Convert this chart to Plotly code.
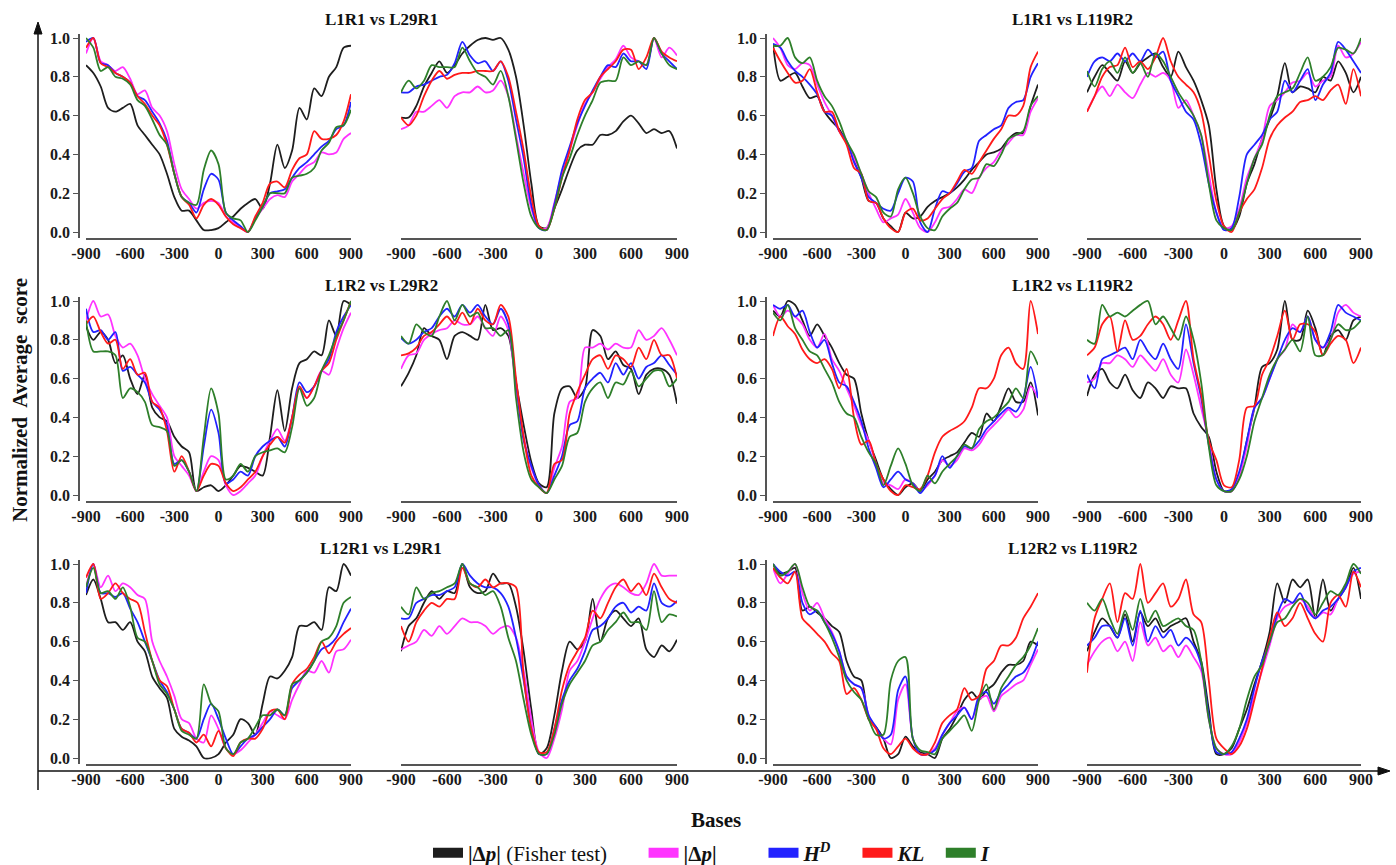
import plotly.graph_objects as go

# ---------------- data ----------------
bases = list(range(-900, 901, 50))
x_tick_vals = [-900, -600, -300, 0, 300, 600, 900]
x_tick_text = ["-900", "-600", "-300", "0", "300", "600", "900"]
y_tick_vals = [0.0, 0.2, 0.4, 0.6, 0.8, 1.0]
y_tick_text = ["0.0", "0.2", "0.4", "0.6", "0.8", "1.0"]

pair_titles = ["L1R1 vs L29R1", "L1R1 vs L119R2",
               "L1R2 vs L29R2", "L1R2 vs L119R2",
               "L12R1 vs L29R1", "L12R2 vs L119R2"]

series_labels = ["<b>|Δ<i>p</i>|</b> (Fisher test)", "<b>|Δ<i>p</i>|</b>",
                 "<b><i>H</i><sup><i>D</i></sup></b>", "<b><i>KL</i></b>", "<b><i>I</i></b>"]
series_colors = ["#1e1e1e", "#ff33ff", "#2222ff", "#ff1a1a", "#2e7f2a"]

# Panel 1: L1R1 vs L29R1 (left)
p1_fisher = [0.86,0.82,0.75,0.64,0.62,0.64,0.66,0.55,0.50,0.45,0.40,0.30,0.18,0.11,0.11,0.06,0.01,0.01,0.02,0.05,0.08,0.12,0.15,0.17,0.12,0.25,0.45,0.33,0.42,0.64,0.58,0.74,0.70,0.80,0.85,0.95,0.96]
p1_dp = [0.92,1.0,0.88,0.86,0.83,0.85,0.79,0.71,0.73,0.64,0.60,0.52,0.35,0.22,0.17,0.12,0.15,0.16,0.15,0.08,0.05,0.02,0.0,0.07,0.12,0.17,0.19,0.18,0.26,0.30,0.34,0.36,0.41,0.40,0.41,0.48,0.51]
p1_hd = [0.98,1.0,0.87,0.86,0.82,0.80,0.77,0.70,0.68,0.62,0.56,0.47,0.30,0.18,0.15,0.10,0.22,0.30,0.27,0.10,0.06,0.03,0.0,0.07,0.13,0.20,0.21,0.22,0.28,0.33,0.36,0.40,0.44,0.47,0.53,0.55,0.67]
p1_kl = [0.95,1.0,0.87,0.85,0.82,0.80,0.77,0.70,0.66,0.60,0.55,0.45,0.30,0.18,0.14,0.07,0.14,0.17,0.14,0.08,0.04,0.02,0.0,0.08,0.15,0.25,0.26,0.23,0.32,0.38,0.40,0.52,0.48,0.48,0.50,0.57,0.71]
p1_i = [1.0,0.95,0.83,0.85,0.80,0.79,0.76,0.68,0.65,0.58,0.50,0.45,0.30,0.18,0.15,0.14,0.32,0.42,0.35,0.10,0.07,0.06,0.0,0.06,0.13,0.20,0.20,0.20,0.28,0.29,0.30,0.33,0.42,0.46,0.54,0.55,0.63]

# Panel 2: L1R1 vs L29R1 (right)
p2_fisher = [0.59,0.59,0.65,0.75,0.82,0.88,0.82,0.86,0.92,0.96,0.99,1.0,0.99,1.0,0.94,0.80,0.55,0.25,0.03,0.02,0.12,0.22,0.33,0.42,0.45,0.45,0.50,0.50,0.52,0.57,0.60,0.56,0.51,0.53,0.51,0.52,0.43]
p2_dp = [0.53,0.55,0.62,0.62,0.65,0.68,0.64,0.70,0.72,0.72,0.75,0.72,0.73,0.78,0.70,0.50,0.30,0.12,0.02,0.02,0.15,0.30,0.42,0.55,0.66,0.72,0.79,0.85,0.89,0.96,0.90,0.88,0.86,1.0,0.90,0.95,0.91]
p2_hd = [0.72,0.72,0.75,0.76,0.78,0.80,0.81,0.87,0.98,0.91,0.87,0.88,0.83,0.88,0.78,0.58,0.38,0.14,0.02,0.01,0.14,0.32,0.44,0.56,0.65,0.73,0.80,0.86,0.85,0.92,0.88,0.88,0.84,1.0,0.92,0.88,0.84]
p2_kl = [0.59,0.55,0.60,0.70,0.78,0.83,0.79,0.81,0.82,0.82,0.83,0.83,0.83,0.88,0.80,0.62,0.42,0.18,0.03,0.01,0.12,0.28,0.42,0.58,0.68,0.72,0.80,0.84,0.88,0.94,0.94,0.84,0.90,1.0,0.93,0.90,0.88]
p2_i = [0.72,0.78,0.74,0.78,0.86,0.85,0.85,0.85,0.95,0.88,0.82,0.80,0.76,0.83,0.70,0.48,0.25,0.08,0.02,0.01,0.12,0.28,0.38,0.50,0.60,0.68,0.77,0.78,0.78,0.90,0.86,0.88,0.86,1.0,0.92,0.86,0.84]

# Panel 3: L1R1 vs L119R2 (left)
p3_fisher = [0.97,0.78,0.80,0.82,0.75,0.69,0.70,0.62,0.57,0.53,0.46,0.38,0.28,0.16,0.15,0.07,0.03,0.0,0.10,0.07,0.08,0.13,0.16,0.18,0.20,0.23,0.27,0.32,0.36,0.40,0.41,0.43,0.48,0.51,0.51,0.65,0.76]
p3_dp = [1.0,0.95,0.86,0.84,0.87,0.86,0.76,0.67,0.60,0.52,0.46,0.38,0.30,0.20,0.12,0.05,0.07,0.09,0.17,0.10,0.02,0.0,0.05,0.12,0.13,0.17,0.22,0.20,0.28,0.33,0.36,0.42,0.46,0.50,0.50,0.62,0.69]
p3_hd = [0.97,0.95,0.88,0.83,0.80,0.76,0.71,0.62,0.60,0.52,0.47,0.36,0.28,0.18,0.15,0.12,0.11,0.20,0.28,0.26,0.05,0.0,0.12,0.21,0.20,0.25,0.31,0.33,0.47,0.50,0.53,0.55,0.64,0.67,0.68,0.80,0.87]
p3_kl = [0.95,0.88,0.82,0.77,0.78,0.84,0.72,0.62,0.62,0.52,0.45,0.33,0.30,0.16,0.15,0.07,0.02,0.0,0.10,0.12,0.06,0.07,0.12,0.17,0.20,0.26,0.32,0.30,0.36,0.42,0.48,0.53,0.60,0.60,0.65,0.85,0.93]
p3_i = [0.96,0.96,1.0,0.90,0.87,0.90,0.78,0.70,0.65,0.57,0.47,0.40,0.30,0.21,0.18,0.10,0.08,0.22,0.28,0.20,0.08,0.02,0.01,0.08,0.12,0.15,0.22,0.27,0.28,0.35,0.34,0.40,0.48,0.50,0.52,0.65,0.70]

# Panel 4: L1R1 vs L119R2 (right)
p4_fisher = [0.72,0.80,0.86,0.82,0.78,0.88,0.82,0.87,0.90,0.92,0.85,0.80,0.93,0.85,0.78,0.68,0.55,0.22,0.03,0.01,0.08,0.25,0.35,0.48,0.58,0.70,0.87,0.72,0.75,0.74,0.72,0.80,0.78,0.88,0.82,0.72,0.80]
p4_dp = [0.62,0.70,0.75,0.70,0.76,0.72,0.69,0.76,0.82,0.80,0.82,0.78,0.64,0.68,0.60,0.50,0.30,0.10,0.02,0.03,0.12,0.28,0.38,0.48,0.65,0.68,0.72,0.77,0.78,0.82,0.75,0.78,0.80,0.96,0.90,0.92,0.98]
p4_hd = [0.80,0.88,0.90,0.88,0.92,0.88,0.92,0.88,0.94,0.90,0.93,0.78,0.70,0.62,0.58,0.45,0.25,0.10,0.01,0.02,0.18,0.40,0.45,0.50,0.58,0.62,0.78,0.72,0.78,0.84,0.68,0.76,0.82,0.98,0.94,0.88,0.82]
p4_kl = [0.62,0.70,0.80,0.85,0.86,0.95,0.85,0.88,0.84,0.90,1.0,0.88,0.80,0.76,0.72,0.62,0.40,0.16,0.03,0.0,0.10,0.17,0.22,0.33,0.48,0.55,0.59,0.62,0.67,0.68,0.70,0.68,0.73,0.76,0.66,0.84,0.70]
p4_i = [0.83,0.75,0.84,0.88,0.82,0.90,0.82,0.87,0.80,0.92,0.88,0.80,0.72,0.66,0.60,0.50,0.25,0.06,0.02,0.01,0.10,0.25,0.38,0.45,0.60,0.70,0.72,0.74,0.82,0.90,0.78,0.80,0.85,0.95,0.94,0.92,1.0]

# Panel 5: L1R2 vs L29R2 (left)
p5_fisher = [0.87,0.80,0.84,0.80,0.68,0.72,0.60,0.52,0.62,0.45,0.40,0.38,0.30,0.25,0.22,0.02,0.04,0.05,0.02,0.05,0.10,0.15,0.14,0.12,0.10,0.30,0.54,0.33,0.55,0.68,0.70,0.74,0.72,0.90,0.82,1.0,0.98]
p5_dp = [0.90,1.0,0.92,0.93,0.82,0.76,0.78,0.72,0.60,0.52,0.46,0.40,0.20,0.15,0.10,0.02,0.12,0.20,0.18,0.05,0.0,0.02,0.06,0.10,0.20,0.28,0.34,0.28,0.40,0.55,0.50,0.56,0.64,0.62,0.75,0.86,0.94]
p5_hd = [0.96,0.84,0.85,0.80,0.84,0.64,0.66,0.62,0.58,0.48,0.44,0.36,0.16,0.18,0.12,0.02,0.25,0.44,0.32,0.06,0.08,0.12,0.10,0.20,0.25,0.28,0.30,0.25,0.40,0.58,0.53,0.56,0.64,0.70,0.84,0.92,0.98]
p5_kl = [0.88,0.92,0.84,0.78,0.80,0.65,0.70,0.62,0.63,0.48,0.45,0.33,0.12,0.20,0.12,0.02,0.10,0.16,0.15,0.06,0.02,0.04,0.08,0.12,0.20,0.26,0.30,0.27,0.40,0.56,0.50,0.56,0.64,0.68,0.80,0.90,1.0]
p5_i = [0.90,0.74,0.74,0.74,0.72,0.50,0.55,0.53,0.48,0.36,0.35,0.33,0.15,0.18,0.12,0.02,0.30,0.55,0.42,0.08,0.10,0.16,0.12,0.20,0.22,0.23,0.24,0.22,0.35,0.55,0.46,0.50,0.64,0.72,0.82,0.90,1.0]

# Panel 6: L1R2 vs L29R2 (right)
p6_fisher = [0.56,0.63,0.72,0.86,0.82,0.80,0.70,0.82,0.84,0.82,0.80,0.98,0.85,0.86,0.82,0.58,0.36,0.17,0.06,0.04,0.42,0.55,0.56,0.50,0.55,0.85,0.82,0.70,0.74,0.67,0.65,0.52,0.62,0.65,0.65,0.62,0.47]
p6_dp = [0.65,0.72,0.73,0.80,0.83,0.85,0.86,0.90,0.88,0.88,0.92,0.86,0.82,0.92,0.85,0.55,0.30,0.14,0.05,0.01,0.14,0.25,0.48,0.50,0.76,0.76,0.78,0.75,0.78,0.76,0.76,0.85,0.80,0.82,0.86,0.80,0.72]
p6_hd = [0.81,0.78,0.80,0.84,0.86,0.92,0.96,0.92,0.98,0.94,0.98,0.92,0.88,0.96,0.88,0.58,0.28,0.15,0.05,0.01,0.10,0.20,0.36,0.38,0.55,0.60,0.63,0.58,0.68,0.62,0.68,0.60,0.66,0.68,0.72,0.67,0.62]
p6_kl = [0.72,0.73,0.76,0.82,0.84,0.88,0.92,0.88,0.94,0.88,0.96,0.90,0.88,0.98,0.92,0.60,0.30,0.10,0.04,0.01,0.16,0.18,0.42,0.53,0.62,0.70,0.72,0.65,0.72,0.70,0.66,0.76,0.70,0.80,0.72,0.72,0.60]
p6_i = [0.82,0.78,0.88,0.84,0.82,0.92,1.0,0.90,0.98,0.92,0.94,0.86,0.86,0.82,0.85,0.50,0.22,0.08,0.04,0.01,0.08,0.15,0.30,0.32,0.48,0.55,0.58,0.50,0.58,0.57,0.64,0.56,0.60,0.64,0.64,0.56,0.60]

# Panel 7: L1R2 vs L119R2 (left)
p7_fisher = [0.95,0.92,1.0,0.98,0.90,0.82,0.88,0.82,0.76,0.68,0.62,0.60,0.42,0.28,0.18,0.08,0.03,0.0,0.04,0.06,0.02,0.08,0.12,0.18,0.20,0.22,0.27,0.32,0.30,0.42,0.38,0.46,0.55,0.48,0.48,0.58,0.41]
p7_dp = [0.98,0.92,0.95,0.92,0.88,0.80,0.76,0.83,0.70,0.64,0.55,0.46,0.36,0.28,0.16,0.06,0.05,0.03,0.08,0.06,0.02,0.05,0.10,0.18,0.15,0.18,0.24,0.23,0.26,0.32,0.36,0.40,0.44,0.40,0.44,0.56,0.50]
p7_hd = [0.98,0.96,0.98,0.92,0.95,0.84,0.76,0.80,0.68,0.58,0.56,0.48,0.38,0.24,0.14,0.04,0.08,0.12,0.08,0.06,0.01,0.06,0.10,0.20,0.14,0.20,0.25,0.24,0.28,0.34,0.38,0.42,0.45,0.43,0.50,0.66,0.50]
p7_kl = [0.82,0.92,0.87,0.83,0.75,0.70,0.68,0.70,0.65,0.55,0.65,0.40,0.26,0.28,0.16,0.08,0.02,0.0,0.05,0.04,0.03,0.10,0.22,0.30,0.33,0.35,0.38,0.45,0.55,0.55,0.60,0.72,0.76,0.68,0.65,1.0,0.83]
p7_i = [0.94,0.90,0.98,0.86,0.80,0.74,0.72,0.65,0.58,0.48,0.42,0.40,0.30,0.22,0.16,0.05,0.15,0.24,0.16,0.05,0.02,0.10,0.06,0.12,0.16,0.20,0.26,0.24,0.34,0.38,0.40,0.44,0.48,0.55,0.50,0.74,0.67]

# Panel 8: L1R2 vs L119R2 (right)
p8_fisher = [0.51,0.62,0.65,0.58,0.55,0.62,0.54,0.50,0.58,0.55,0.50,0.56,0.55,0.55,0.42,0.35,0.30,0.12,0.02,0.02,0.10,0.28,0.45,0.66,0.68,0.75,1.0,0.80,0.80,0.95,0.86,0.72,0.82,0.85,0.80,0.90,0.92]
p8_dp = [0.58,0.60,0.68,0.68,0.72,0.70,0.66,0.72,0.68,0.64,0.70,0.62,0.58,0.75,0.62,0.45,0.28,0.08,0.02,0.02,0.10,0.25,0.45,0.50,0.60,0.70,0.75,0.88,0.84,0.92,0.80,0.76,0.80,0.94,0.98,0.94,0.92]
p8_hd = [0.62,0.55,0.70,0.72,0.74,0.76,0.70,0.80,0.74,0.70,0.78,0.70,0.65,0.88,0.68,0.50,0.26,0.08,0.02,0.03,0.12,0.28,0.45,0.50,0.60,0.70,0.80,0.86,0.84,0.92,0.80,0.76,0.84,0.98,0.94,0.92,0.90]
p8_kl = [0.72,0.76,0.88,0.92,0.74,0.90,0.80,0.82,0.88,0.92,0.88,0.80,0.90,1.0,0.70,0.52,0.28,0.18,0.05,0.04,0.18,0.45,0.46,0.62,0.70,0.82,0.95,0.80,0.88,0.88,0.84,0.72,0.78,0.82,0.80,0.68,0.76]
p8_i = [0.80,0.78,0.98,0.92,0.94,0.92,0.95,0.98,1.0,0.88,0.92,0.86,0.80,0.92,0.80,0.58,0.25,0.05,0.02,0.02,0.08,0.20,0.38,0.50,0.62,0.70,0.75,0.80,0.74,0.92,0.72,0.72,0.80,0.88,0.85,0.86,0.90]

# Panel 9: L12R1 vs L29R1 (left)
p9_fisher = [0.84,0.92,0.82,0.70,0.70,0.66,0.70,0.60,0.55,0.42,0.36,0.31,0.15,0.11,0.09,0.06,0.0,0.0,0.02,0.08,0.12,0.20,0.18,0.12,0.28,0.42,0.41,0.45,0.52,0.68,0.68,0.70,0.66,0.88,0.86,1.0,0.94]
p9_dp = [0.88,1.0,0.88,0.94,0.86,0.90,0.88,0.84,0.82,0.60,0.50,0.42,0.32,0.20,0.18,0.10,0.08,0.22,0.15,0.05,0.02,0.04,0.08,0.12,0.18,0.24,0.22,0.20,0.30,0.38,0.45,0.44,0.50,0.44,0.55,0.56,0.61]
p9_hd = [0.85,1.0,0.85,0.85,0.83,0.85,0.77,0.70,0.60,0.50,0.40,0.34,0.25,0.15,0.13,0.10,0.20,0.28,0.20,0.10,0.02,0.06,0.10,0.12,0.16,0.20,0.25,0.22,0.36,0.40,0.44,0.50,0.56,0.58,0.62,0.70,0.77]
p9_kl = [0.93,1.0,0.82,0.85,0.90,0.85,0.82,0.80,0.65,0.50,0.40,0.37,0.25,0.15,0.13,0.08,0.12,0.06,0.14,0.05,0.01,0.08,0.10,0.10,0.15,0.24,0.25,0.20,0.38,0.43,0.46,0.52,0.60,0.54,0.60,0.64,0.67]
p9_i = [0.88,0.98,0.85,0.86,0.82,0.88,0.78,0.62,0.60,0.50,0.38,0.33,0.25,0.14,0.12,0.10,0.38,0.28,0.24,0.05,0.02,0.08,0.10,0.16,0.22,0.22,0.25,0.22,0.38,0.40,0.44,0.50,0.60,0.62,0.68,0.80,0.83]

# Panel 10: L12R1 vs L29R1 (right)
p10_fisher = [0.55,0.68,0.72,0.80,0.86,0.82,0.86,0.85,1.0,0.88,0.85,0.86,0.95,0.90,0.90,0.78,0.55,0.25,0.02,0.05,0.22,0.45,0.60,0.56,0.60,0.82,0.60,0.72,0.76,0.72,0.68,0.72,0.56,0.52,0.58,0.55,0.61]
p10_dp = [0.56,0.58,0.60,0.66,0.63,0.68,0.64,0.68,0.72,0.70,0.70,0.68,0.64,0.67,0.68,0.62,0.45,0.20,0.03,0.0,0.10,0.25,0.45,0.50,0.60,0.72,0.82,0.88,0.90,0.88,0.85,0.84,0.90,1.0,0.94,0.94,0.94]
p10_hd = [0.72,0.72,0.80,0.82,0.84,0.84,0.86,0.88,1.0,0.94,0.90,0.88,0.88,0.85,0.78,0.62,0.40,0.15,0.02,0.02,0.15,0.30,0.40,0.46,0.55,0.66,0.68,0.72,0.78,0.80,0.75,0.78,0.76,0.90,0.80,0.78,0.81]
p10_kl = [0.68,0.60,0.70,0.76,0.80,0.78,0.82,0.82,0.98,0.90,0.88,0.92,0.88,0.90,0.90,0.88,0.42,0.15,0.03,0.03,0.15,0.35,0.48,0.55,0.62,0.76,0.72,0.80,0.88,0.92,0.86,0.90,0.84,0.95,0.88,0.82,0.80]
p10_i = [0.78,0.74,0.88,0.82,0.85,0.86,0.88,0.90,1.0,0.90,0.88,0.84,0.86,0.78,0.62,0.50,0.30,0.12,0.02,0.02,0.12,0.28,0.38,0.44,0.50,0.58,0.60,0.66,0.70,0.75,0.70,0.70,0.66,0.86,0.70,0.74,0.73]

# Panel 11: L12R2 vs L119R2 (left)
p11_fisher = [1.0,0.95,0.96,0.98,0.76,0.78,0.75,0.72,0.68,0.65,0.50,0.42,0.40,0.20,0.16,0.10,0.0,0.02,0.11,0.06,0.03,0.02,0.0,0.10,0.15,0.22,0.30,0.34,0.30,0.35,0.38,0.44,0.48,0.48,0.50,0.60,0.58]
p11_dp = [0.98,0.90,0.95,1.0,0.85,0.76,0.80,0.72,0.65,0.55,0.42,0.38,0.36,0.22,0.15,0.10,0.07,0.30,0.38,0.10,0.02,0.02,0.05,0.12,0.18,0.24,0.26,0.20,0.30,0.32,0.24,0.32,0.35,0.38,0.40,0.48,0.56]
p11_hd = [1.0,0.96,0.94,0.96,0.80,0.74,0.76,0.70,0.64,0.55,0.42,0.38,0.36,0.22,0.16,0.10,0.12,0.35,0.42,0.10,0.02,0.02,0.04,0.12,0.18,0.22,0.26,0.20,0.32,0.34,0.28,0.34,0.38,0.42,0.44,0.50,0.60]
p11_kl = [0.98,0.93,0.90,0.96,0.72,0.68,0.64,0.60,0.54,0.50,0.33,0.36,0.30,0.20,0.15,0.05,0.02,0.06,0.10,0.05,0.02,0.02,0.08,0.18,0.22,0.25,0.36,0.30,0.32,0.46,0.50,0.58,0.58,0.62,0.72,0.78,0.85]
p11_i = [1.0,0.94,0.96,1.0,0.88,0.78,0.76,0.70,0.62,0.52,0.40,0.34,0.30,0.20,0.12,0.12,0.40,0.50,0.52,0.10,0.04,0.03,0.02,0.10,0.14,0.18,0.22,0.14,0.30,0.38,0.25,0.36,0.42,0.48,0.52,0.58,0.67]

# Panel 12: L12R2 vs L119R2 (right)
p12_fisher = [0.55,0.65,0.72,0.68,0.62,0.74,0.60,0.75,0.68,0.72,0.65,0.68,0.70,0.72,0.60,0.50,0.25,0.02,0.02,0.05,0.15,0.25,0.38,0.50,0.65,0.90,0.80,0.92,0.88,0.92,0.72,0.92,0.76,0.82,0.88,0.98,0.82]
p12_dp = [0.48,0.55,0.60,0.62,0.55,0.60,0.50,0.70,0.58,0.62,0.55,0.58,0.52,0.58,0.52,0.45,0.20,0.05,0.02,0.02,0.08,0.18,0.32,0.45,0.58,0.72,0.78,0.80,0.82,0.78,0.72,0.75,0.74,0.82,0.88,0.95,0.96]
p12_hd = [0.58,0.62,0.68,0.68,0.62,0.72,0.58,0.76,0.60,0.68,0.62,0.66,0.58,0.62,0.58,0.48,0.22,0.03,0.02,0.03,0.10,0.20,0.36,0.50,0.60,0.74,0.82,0.80,0.85,0.76,0.72,0.76,0.78,0.82,0.88,0.96,0.98]
p12_kl = [0.44,0.72,0.82,0.90,0.70,0.85,0.82,1.0,0.80,0.85,0.90,0.78,0.82,0.92,0.74,0.70,0.40,0.10,0.05,0.02,0.06,0.15,0.30,0.46,0.62,0.75,0.68,0.72,0.80,0.72,0.64,0.60,0.80,0.84,0.78,0.96,0.88]
p12_i = [0.80,0.76,0.82,0.72,0.64,0.76,0.66,0.82,0.70,0.76,0.68,0.70,0.72,0.68,0.66,0.50,0.20,0.05,0.02,0.06,0.15,0.30,0.42,0.48,0.60,0.70,0.72,0.78,0.82,0.80,0.74,0.80,0.86,0.84,0.90,1.0,0.95]

panels = [
    [p1_fisher, p1_dp, p1_hd, p1_kl, p1_i],
    [p2_fisher, p2_dp, p2_hd, p2_kl, p2_i],
    [p3_fisher, p3_dp, p3_hd, p3_kl, p3_i],
    [p4_fisher, p4_dp, p4_hd, p4_kl, p4_i],
    [p5_fisher, p5_dp, p5_hd, p5_kl, p5_i],
    [p6_fisher, p6_dp, p6_hd, p6_kl, p6_i],
    [p7_fisher, p7_dp, p7_hd, p7_kl, p7_i],
    [p8_fisher, p8_dp, p8_hd, p8_kl, p8_i],
    [p9_fisher, p9_dp, p9_hd, p9_kl, p9_i],
    [p10_fisher, p10_dp, p10_hd, p10_kl, p10_i],
    [p11_fisher, p11_dp, p11_hd, p11_kl, p11_i],
    [p12_fisher, p12_dp, p12_hd, p12_kl, p12_i],
]

# ---------------- layout ----------------
W, H = 1396, 865
SERIF = "Liberation Serif"
col_px = [(86, 351), (401, 677), (773, 1038), (1087, 1361)]
row_one_px = [38, 301, 564]     # pixel row of value 1.0
unit_px = 194                   # pixels per 1.0
y_lo, y_hi = -0.031, 1.02
NB = "\u00a0"
legend_pad = [6, 8, 4, 2, 0]    # trailing spaces to spread legend entries

def px_x(v):
    return v / W

def px_y(v):
    return 1 - v / H

fig = go.Figure()
layout = dict(
    width=W, height=H, autosize=False,
    margin=dict(l=0, r=0, t=0, b=0, pad=0, autoexpand=False),
    paper_bgcolor="white", plot_bgcolor="white",
    showlegend=True,
    font=dict(family=SERIF, color="#111111"),
)

for k in range(12):
    r, c = divmod(k, 4)
    ax_id = "" if k == 0 else str(k + 1)
    x0, x1 = col_px[c]
    top = row_one_px[r] - (y_hi - 1.0) * unit_px
    bot = row_one_px[r] + (1.0 - y_lo) * unit_px
    xdom = [px_x(x0), px_x(x1)]
    ydom = [px_y(bot), px_y(top)]
    layout["xaxis" + ax_id] = dict(
        domain=xdom, range=[-900, 900], anchor="y" + ax_id, automargin=False,
        showgrid=False, zeroline=False, showline=True, linecolor="#555555", linewidth=1.5,
        tickmode="array", tickvals=x_tick_vals, ticktext=x_tick_text, ticks="",
        tickfont=dict(family=SERIF, size=16, color="#1a1a1a", weight="bold"),
    )
    yax = dict(
        domain=ydom, range=[y_lo, y_hi], automargin=False,
        showgrid=False, zeroline=False,
    )
    if c in (0, 2):
        yax.update(
            anchor="free", position=px_x(x0 - 7),
            showline=True, linecolor="#555555", linewidth=1.5,
            ticks="outside", ticklen=5, tickcolor="#555555", tickwidth=1.2,
            tickmode="array", tickvals=y_tick_vals, ticktext=y_tick_text,
            tickfont=dict(family=SERIF, size=16, color="#1a1a1a", weight="bold"),
        )
    else:
        yax.update(visible=False, anchor="x" + ax_id)
    layout["yaxis" + ax_id] = yax

    for s in range(5):
        fig.add_trace(go.Scatter(
            x=bases, y=panels[k][s], mode="lines",
            line=dict(color=series_colors[s], width=1.8, shape="spline", smoothing=0.8),
            xaxis="x" + ax_id, yaxis="y" + ax_id,
            showlegend=False, hoverinfo="skip",
        ))

# legend-only entries
for s in range(5):
    fig.add_trace(go.Scatter(
        x=[None], y=[None], mode="lines", name=series_labels[s] + NB * legend_pad[s],
        line=dict(color=series_colors[s], width=11),
        xaxis="x", yaxis="y",
    ))

layout["legend"] = dict(
    orientation="h", x=px_x(712), xanchor="center", y=px_y(853), yanchor="middle",
    font=dict(family=SERIF, size=21, color="#111111"),
    bgcolor="rgba(0,0,0,0)", itemwidth=30, traceorder="normal",
)

annotations = []
title_pos_x = [381, 1072]
title_pos_y = [20, 285, 548]
for t, title in enumerate(pair_titles):
    r, c = divmod(t, 2)
    annotations.append(dict(
        x=px_x(title_pos_x[c]), y=px_y(title_pos_y[r]), xref="paper", yref="paper",
        text=title, showarrow=False, xanchor="center", yanchor="middle",
        font=dict(family=SERIF, size=17, color="#111111", weight="bold"),
    ))

annotations.append(dict(
    x=px_x(20), y=px_y(400), xref="paper", yref="paper",
    text="Normalized\u00a0 Average\u00a0 score", textangle=-90, showarrow=False,
    xanchor="center", yanchor="middle",
    font=dict(family=SERIF, size=21, color="#111111", weight="bold"),
))
annotations.append(dict(
    x=px_x(716), y=px_y(820), xref="paper", yref="paper",
    text="Bases", showarrow=False, xanchor="center", yanchor="middle",
    font=dict(family=SERIF, size=21, color="#111111", weight="bold"),
))
layout["annotations"] = annotations

# big axis arrows (decoration): lines + triangular heads
ax_x, top_y, bot_y = 38, 22, 790
hz_y, hz_x0, hz_x1 = 771, 38, 1390
shapes = [
    dict(type="line", xref="paper", yref="paper",
         x0=px_x(ax_x), x1=px_x(ax_x), y0=px_y(bot_y), y1=px_y(top_y + 8),
         line=dict(color="#111111", width=1.5)),
    dict(type="line", xref="paper", yref="paper",
         x0=px_x(hz_x0), x1=px_x(hz_x1 - 8), y0=px_y(hz_y), y1=px_y(hz_y),
         line=dict(color="#111111", width=1.5)),
    dict(type="path", xref="paper", yref="paper",
         path="M {} {} L {} {} L {} {} Z".format(
             px_x(ax_x), px_y(top_y), px_x(ax_x - 4), px_y(top_y + 12), px_x(ax_x + 4), px_y(top_y + 12)),
         fillcolor="#111111", line=dict(color="#111111", width=1)),
    dict(type="path", xref="paper", yref="paper",
         path="M {} {} L {} {} L {} {} Z".format(
             px_x(hz_x1), px_y(hz_y), px_x(hz_x1 - 12), px_y(hz_y - 4), px_x(hz_x1 - 12), px_y(hz_y + 4)),
         fillcolor="#111111", line=dict(color="#111111", width=1)),
]
layout["shapes"] = shapes

fig.update_layout(**layout)
fig.write_html(
    "out.html",
    config={"responsive": False, "displayModeBar": False},
    post_script="document.body.style.margin='0';document.body.style.overflow='hidden';",
)
